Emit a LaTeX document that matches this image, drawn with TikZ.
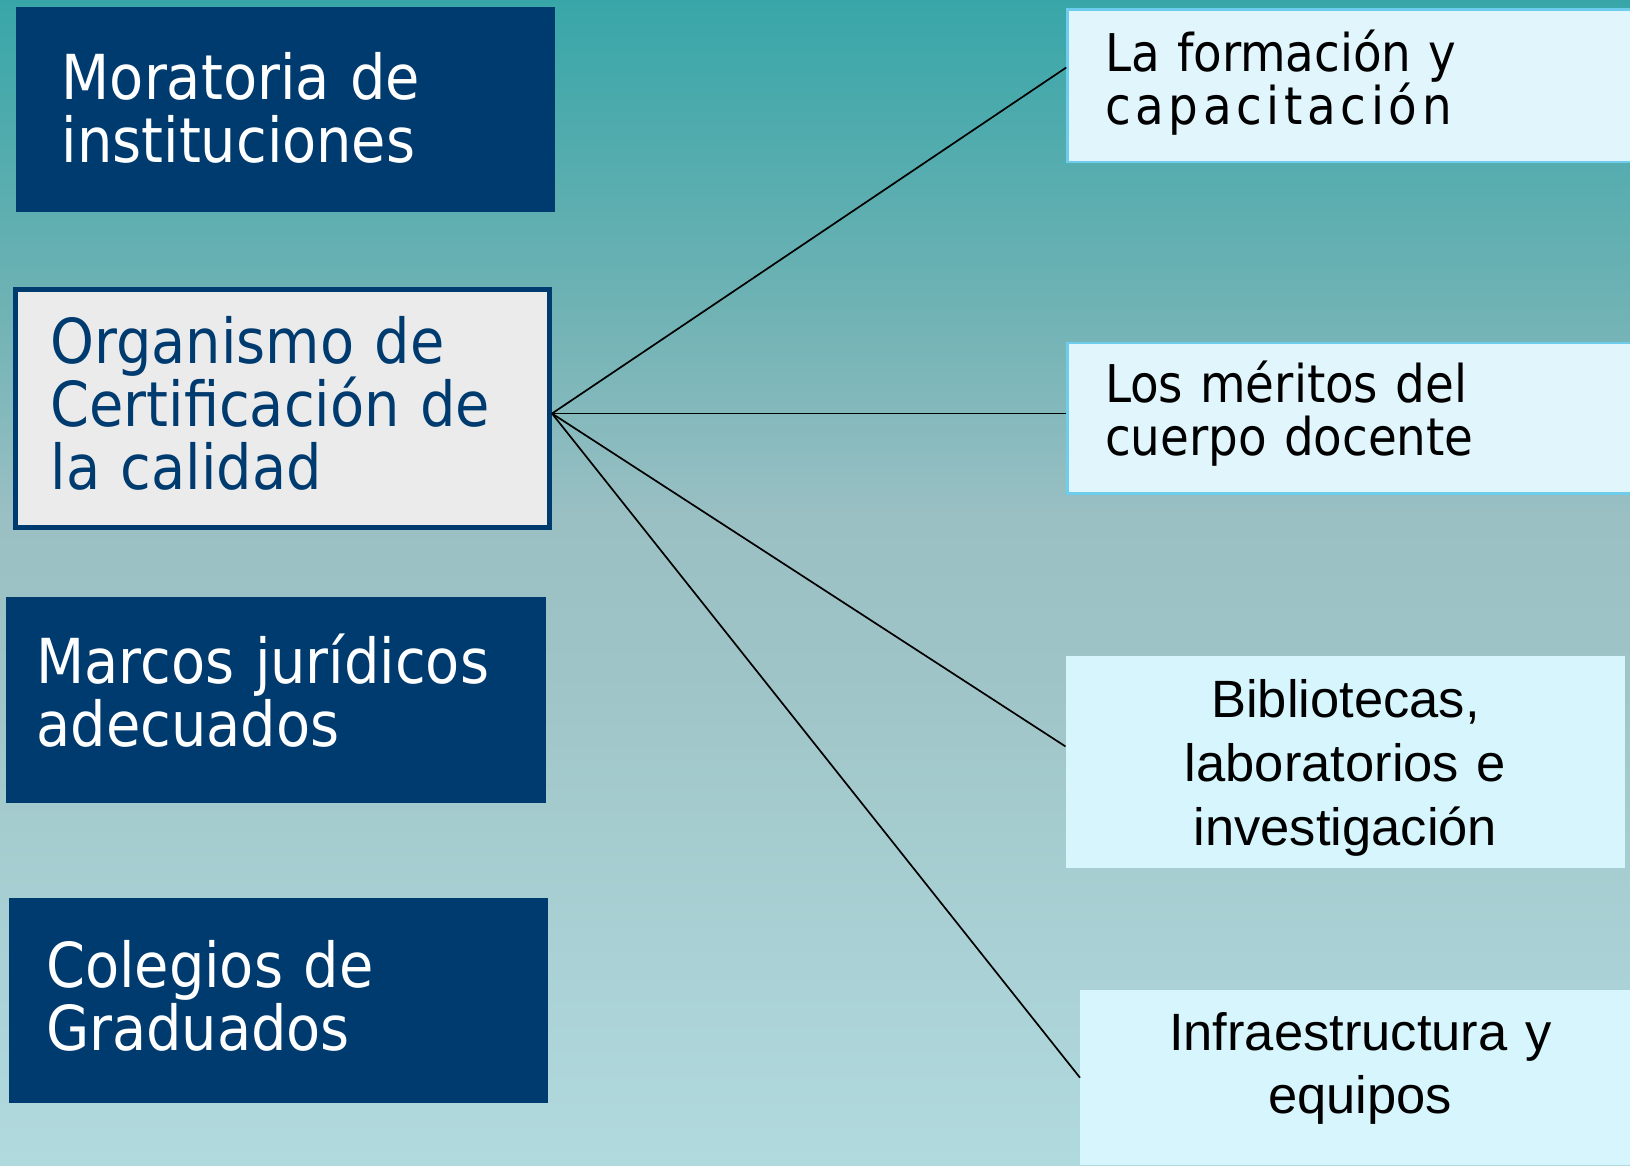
\documentclass[tikz,border=0pt]{standalone}
\usepackage{fontspec}
\newfontfamily\tahomafont{DejaVu Sans Condensed}
\newfontfamily\arialfont{Liberation Sans}
\definecolor{navy}{RGB}{0,59,112}
\definecolor{boxgrey}{RGB}{235,235,235}
\definecolor{paleedge}{RGB}{110,204,236}
\definecolor{palefill}{RGB}{225,245,252}
\definecolor{cyanfill}{RGB}{214,245,252}
\definecolor{bgtop}{RGB}{56,166,168}
\definecolor{bgone}{RGB}{110,178,180}
\definecolor{bgtwo}{RGB}{132,185,188}
\definecolor{bgthree}{RGB}{155,192,196}
\definecolor{bgfour}{RGB}{159,196,199}
\definecolor{bgfive}{RGB}{164,203,206}
\definecolor{bgsix}{RGB}{170,210,214}
\definecolor{bgbot}{RGB}{177,218,222}
\pgfdeclareverticalshading{bgshade}{100bp}{color(0bp)=(bgbot); color(25bp)=(bgbot);
color(33.6bp)=(bgsix); color(39.8bp)=(bgfive); color(46.2bp)=(bgfour);
color(52.7bp)=(bgthree); color(57.3bp)=(bgtwo); color(62.1bp)=(bgone);
color(75bp)=(bgtop); color(100bp)=(bgtop)}

\begin{document}
\begin{tikzpicture}[x=1pt,y=-1pt]
\tikzstyle{navybox} = [rectangle, draw=navy, fill=navy, text=white, anchor=north west,
align=left, inner ysep=2pt, font=\tahomafont\fontsize{62}{63}\selectfont]
\tikzstyle{greybox} = [rectangle, draw=navy, line width=5pt, fill=boxgrey, text=navy,
anchor=north west, align=left, inner ysep=2pt, font=\tahomafont\fontsize{62}{63}\selectfont]
\tikzstyle{paleblock} = [rectangle, draw=paleedge, line width=2.5pt, fill=palefill,
anchor=north west, align=left, inner xsep=37.5pt, inner ysep=2pt, text width=499pt,
minimum width=574pt, font=\tahomafont\fontsize{52}{53}\selectfont]
\tikzstyle{cyanblock} = [rectangle, fill=cyanfill, anchor=north west, align=center,
inner xsep=10pt, inner ysep=2pt, font=\arialfont\fontsize{52.5}{64}\selectfont]
\tikzstyle{line} = [draw, line width=1.7pt]

\useasboundingbox (0,0) rectangle (1630,1165);
\shade[shading=bgshade] (0,0) rectangle (1630,1165);

% left column
\node [navybox, inner xsep=46pt, text width=446.4pt, minimum width=538.4pt,
minimum height=204pt, text depth=67pt] (morat) at (15.6,7) {Moratoria de\\instituciones};
\node [greybox, inner xsep=35.5pt, text width=463.5pt, minimum width=534.5pt,
minimum height=238pt, text depth=138pt] (org) at (12.5,287)
{Organismo de\\Certificación de\\la calidad};
\node [navybox, inner xsep=30.5pt, text width=478pt, minimum width=539pt,
minimum height=205pt, text depth=82.5pt] (marcos) at (6,597) {Marcos jurídicos\\adecuados};
\node [navybox, inner xsep=37pt, text width=464pt, minimum width=538pt,
minimum height=204pt, text depth=72pt] (coleg) at (9,898) {Colegios de\\Graduados};

% right column
\node [paleblock, minimum height=152.5pt, text depth=70pt] (form) at (1066.25,8)
{La formación y\\{\addfontfeature{LetterSpace=9}capacitación}};
\node [paleblock, minimum height=150.5pt, text depth=72pt] (merit) at (1066.25,341.5)
{Los méritos del\\cuerpo docente};
\node [cyanblock, text width=539.5pt, minimum width=559.5pt, minimum height=211.5pt,
text depth=126.5pt] (biblio) at (1065.5,656) {Bibliotecas,\\laboratorios e\\investigación};
\node [cyanblock, text width=540pt, minimum width=560pt, minimum height=175pt,
text depth=91.5pt, font=\arialfont\fontsize{52.5}{63}\selectfont] (infra) at (1080,990)
{Infraestructura y\\equipos};

% links
\coordinate (hub) at ([yshift=-5pt]org.east);
\path [line] (hub) -- ([yshift=18pt]form.west);
\path [line] (hub) -- (hub -| merit.west);
\path [line] (hub) -- ([yshift=15.5pt]biblio.west);
\path [line] (hub) -- (infra.west);
\end{tikzpicture}
\end{document}
